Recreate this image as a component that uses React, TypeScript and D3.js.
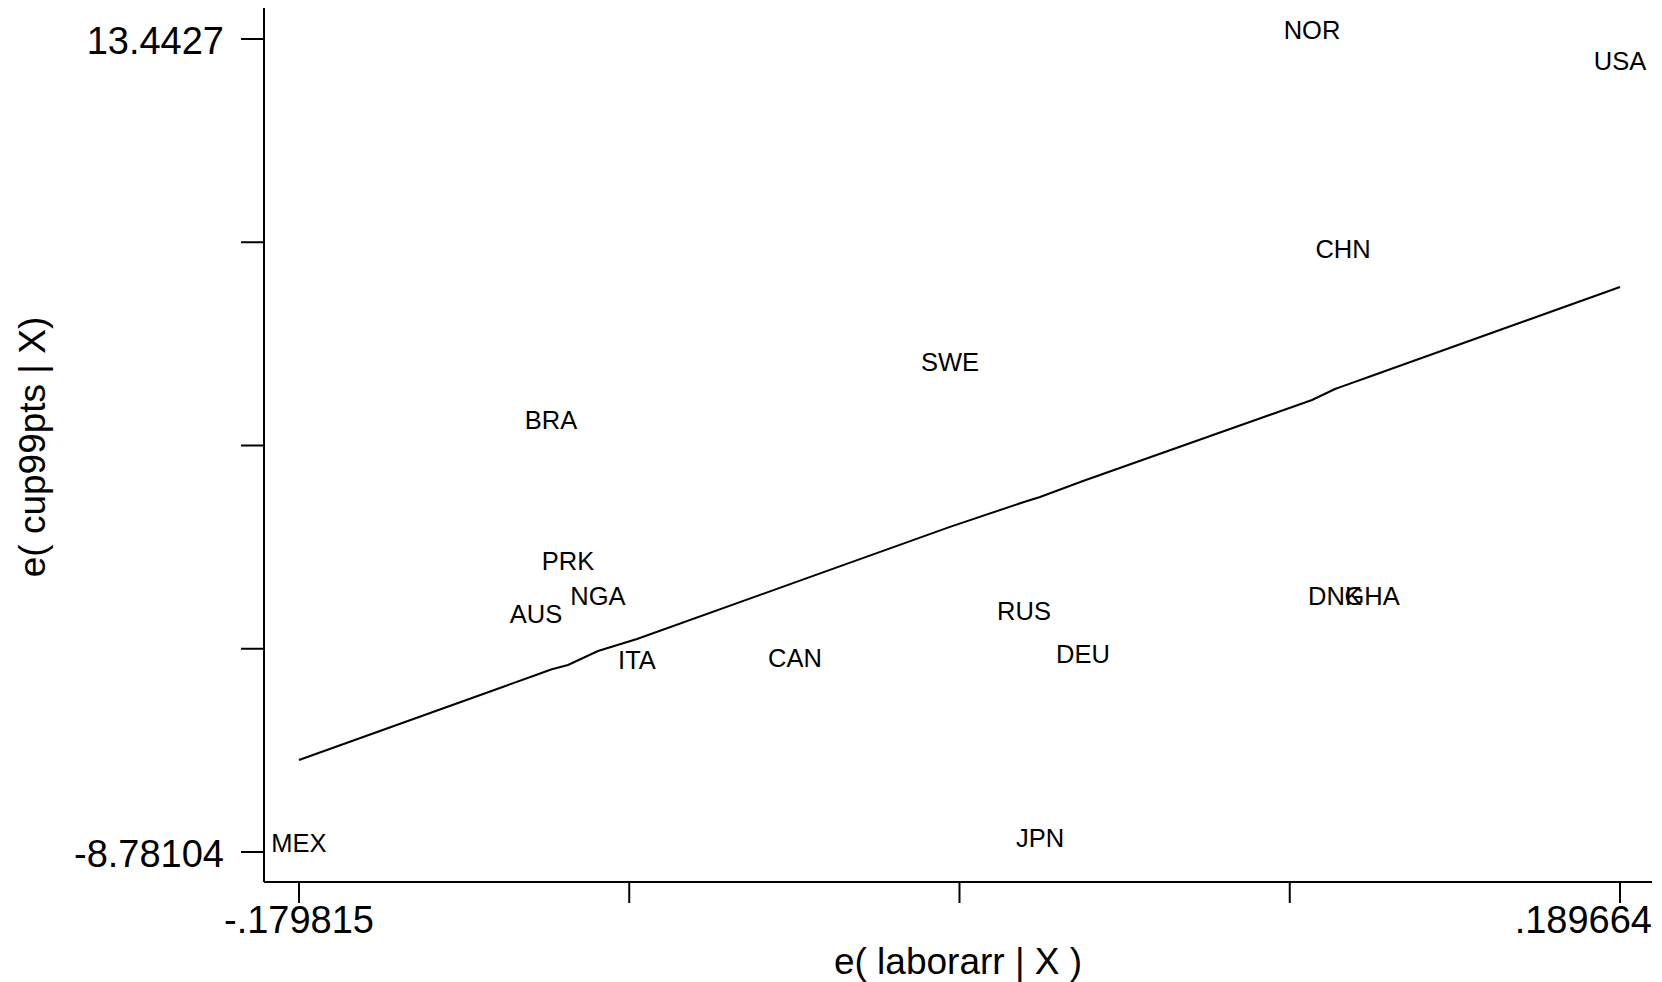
import React from "react";
import * as d3 from "d3";

const countries = ["MEX", "AUS", "BRA", "PRK", "NGA", "ITA", "CAN", "SWE", "RUS", "JPN", "DEU", "NOR", "DNK", "CHN", "GHA", "USA"];
const xResid = [-0.179815, -0.11353, -0.10933, -0.10458, -0.09619, -0.08528, -0.04108, 0.00227, 0.02297, 0.02745, 0.03947, 0.10352, 0.10996, 0.11219, 0.12031, 0.189664];
const yResid = [-8.78104, -2.521, 2.782, -1.072, -2.029, -3.779, -3.724, 4.368, -2.439, -8.644, -3.614, 13.4427, -2.029, 7.457, -2.029, 12.596];
const fitted = [-6.266, -3.943, -3.792, -3.669, -3.286, -2.958, -1.411, 0.106, 0.787, 0.923, 1.361, 3.575, 3.876, 3.955, 4.236, 6.664];

const xTickLabels = ["-.179815", "", "", "", ".189664"];
const yTickLabels = ["13.4427", "", "", "", "-8.78104"];
const xTitle = "e( laborarr | X )";
const yTitle = "e( cup99pts | X)";

const W = 1662;
const H = 982;
const FONT = "'Liberation Sans', Arial, Helvetica, sans-serif";

export default function App() {
  const xMin = d3.min(xResid)!;
  const xMax = d3.max(xResid)!;
  const yMin = d3.min(yResid)!;
  const yMax = d3.max(yResid)!;
  const x = d3.scaleLinear().domain([xMin, xMax]).range([299, 1620]);
  const y = d3.scaleLinear().domain([yMin, yMax]).range([852, 39]);

  const xTicks = d3.range(5).map((i) => xMin + (i * (xMax - xMin)) / 4);
  const yTicks = d3.range(5).map((i) => yMax - (i * (yMax - yMin)) / 4);

  const plotLeft = 264;
  const plotRight = 1652;
  const plotTop = 8;
  const plotBottom = 882;

  const line = d3
    .line<number>()
    .x((_, i) => x(xResid[i]))
    .y((d) => y(d));

  return (
    <svg
      width={W}
      height={H}
      style={{ position: "absolute", left: 0, top: 0, background: "#fff" }}
      fontFamily={FONT}
    >
      <rect x={0} y={0} width={W} height={H} fill="#fff" />
      {/* fitted line */}
      <path d={line(fitted) || ""} fill="none" stroke="#000" strokeWidth={2} />
      {/* labels */}
      {countries.map((c, i) => (
        <text key={c} x={x(xResid[i])} y={y(yResid[i])} textAnchor="middle" fontSize={25.5} fill="#000">
          {c}
        </text>
      ))}
      {/* y axis */}
      <line x1={plotLeft} x2={plotLeft} y1={plotTop} y2={plotBottom} stroke="#000" strokeWidth={2} />
      {yTicks.map((t, i) => (
        <g key={"y" + i}>
          <line x1={plotLeft - 23} x2={plotLeft} y1={y(t)} y2={y(t)} stroke="#000" strokeWidth={2} />
          {yTickLabels[i] && (
            <text x={224} y={y(t) + 15} textAnchor="end" fontSize={38} fill="#000">
              {yTickLabels[i]}
            </text>
          )}
        </g>
      ))}
      {/* x axis */}
      <line x1={plotLeft} x2={plotRight} y1={plotBottom} y2={plotBottom} stroke="#000" strokeWidth={2} />
      {xTicks.map((t, i) => {
        const last = i === xTicks.length - 1;
        return (
          <g key={"x" + i}>
            <line x1={x(t)} x2={x(t)} y1={plotBottom} y2={plotBottom + 21} stroke="#000" strokeWidth={2} />
            {xTickLabels[i] && (
              <text
                x={last ? plotRight : x(t)}
                y={933}
                textAnchor={last ? "end" : "middle"}
                fontSize={38}
                fill="#000"
              >
                {xTickLabels[i]}
              </text>
            )}
          </g>
        );
      })}
      <text x={(plotLeft + plotRight) / 2} y={974} textAnchor="middle" fontSize={37} fill="#000">
        {xTitle}
      </text>
      <text
        transform={`translate(45, ${(plotTop + plotBottom) / 2 + 2}) rotate(-90)`}
        textAnchor="middle"
        fontSize={37}
        fill="#000"
      >
        {yTitle}
      </text>
    </svg>
  );
}
